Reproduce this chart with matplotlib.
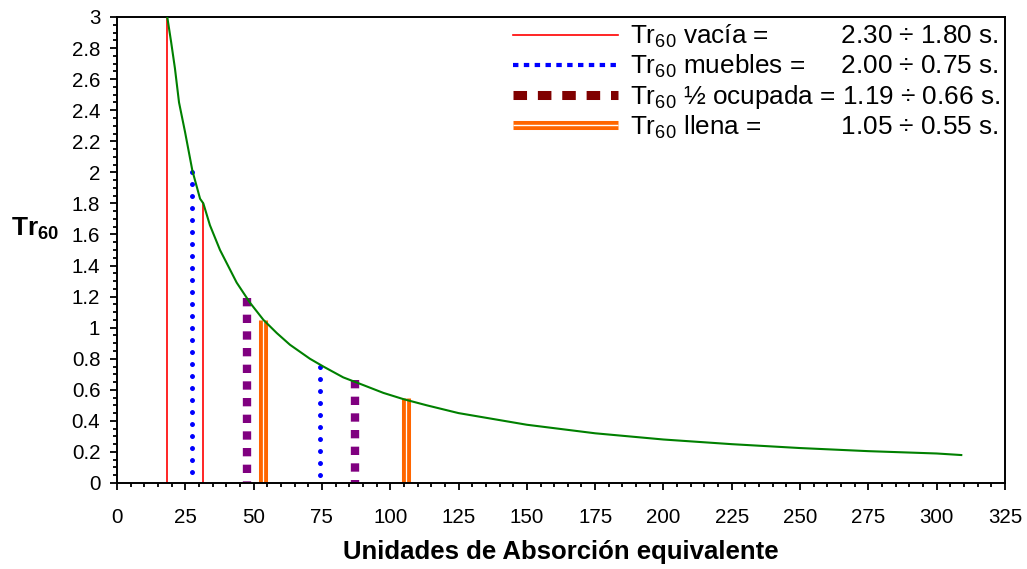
import matplotlib
matplotlib.use("Agg")
import matplotlib.pyplot as plt
from matplotlib.lines import Line2D
from matplotlib.legend_handler import HandlerTuple
from matplotlib.ticker import MultipleLocator, FuncFormatter

plt.rcParams['font.family'] = ['Liberation Sans', 'DejaVu Sans']
plt.rcParams['mathtext.fontset'] = 'custom'
plt.rcParams['mathtext.rm'] = 'Liberation Sans'
plt.rcParams['mathtext.it'] = 'Liberation Sans:italic'
plt.rcParams['mathtext.bf'] = 'Liberation Sans:bold'

# ---- data ----
curve_A = [18.4, 19.8, 21.2, 22.7, 24.9, 27.6, 30.4, 31.6, 34.0, 37.7, 43.8, 48.7,
           53.6, 58.5, 63.3, 70.6, 75.5, 82.8, 90.2, 97.5, 104.8, 113.4, 125,
           150, 175, 200, 225, 250, 275, 300, 309]
curve_T = [3.00, 2.84, 2.67, 2.45, 2.26, 2.01, 1.83, 1.80, 1.66, 1.50, 1.29, 1.16,
           1.05, 0.965, 0.89, 0.80, 0.75, 0.68, 0.63, 0.58, 0.54, 0.50, 0.45,
           0.375, 0.32, 0.28, 0.25, 0.225, 0.205, 0.19, 0.18]

vacia_A = [18.3, 31.5]
vacia_T = [3.00, 1.80]
muebles_A = [27.5, 74.3]
muebles_T = [2.00, 0.75]
ocupada_A = [47.6, 87.1]
ocupada_T = [1.19, 0.66]
llena_A = [53.6, 105.6]
llena_T = [1.05, 0.55]

legend_labels = [
    "Tr$_{60}$ vacía =" + " " * 10 + "2.30 ÷ 1.80 s.",
    "Tr$_{60}$ muebles =" + " " * 5 + "2.00 ÷ 0.75 s.",
    "Tr$_{60}$ ½ ocupada = 1.19 ÷ 0.66 s.",
    "Tr$_{60}$ llena =" + " " * 11 + "1.05 ÷ 0.55 s.",
]
x_label = "Unidades de Absorción equivalente"
y_label = r"$\mathbf{Tr}_{\mathbf{60}}$"

# ---- figure ----
fig = plt.figure(figsize=(10.27, 5.69), dpi=100)
ax = fig.add_axes([117/1027, 1 - 483/569, (1005-117)/1027, (483-17)/569])

ax.plot(curve_A, curve_T, color='#008000', lw=1.5, zorder=3)

for a, t in zip(vacia_A, vacia_T):
    ax.plot([a, a], [0, t], color='#FF0000', lw=1.2, zorder=2)
for a, t in zip(muebles_A, muebles_T):
    ax.plot([a, a], [t, 0], color='#0000FF', lw=3.6, linestyle=(0, (0.01, 2.39)),
            dash_capstyle='round', zorder=2)
for a, t in zip(ocupada_A, ocupada_T):
    ax.plot([a, a], [t, 0], color='#800080', lw=6.0, linestyle=(0, (1, 1)),
            dash_capstyle='butt', zorder=2)
for a, t in zip(llena_A, llena_T):
    ax.plot([a, a], [0, t], color='#FF6600', lw=6.5, solid_capstyle='butt', zorder=2)
    ax.plot([a, a], [0, t], color='white', lw=0.9, solid_capstyle='butt', zorder=2)

ax.set_xlim(0, 325)
ax.set_ylim(0, 3)
ax.xaxis.set_major_locator(MultipleLocator(25))
ax.xaxis.set_minor_locator(MultipleLocator(5))
ax.yaxis.set_major_locator(MultipleLocator(0.2))
ax.yaxis.set_minor_locator(MultipleLocator(0.05))
ax.yaxis.set_major_formatter(FuncFormatter(lambda v, p: f"{round(v, 2):g}"))
ax.tick_params(axis='both', which='major', length=5, width=1.3, labelsize=14.8,
               direction='out', color='black')
ax.tick_params(axis='both', which='minor', length=3, width=1.3, direction='out')
ax.tick_params(axis='x', which='major', pad=13)
ax.tick_params(axis='y', which='major', pad=7)
for s in ax.spines.values():
    s.set_linewidth(1.4)
    s.set_color('black')

ax.set_xlabel(x_label, fontsize=18.5, fontweight='bold', labelpad=9)
ax.set_ylabel(y_label, fontsize=19, rotation=0, va='center', ha='center')
ax.yaxis.set_label_coords(-0.092, 0.545)

h_vacia = Line2D([], [], color='#FF0000', lw=1.2)
h_muebles = Line2D([], [], color='#0000FF', lw=3.0, linestyle=(0, (1.3, 1.3)),
                   dash_capstyle='butt')
h_ocupada = Line2D([], [], color='#800000', lw=6.5, linestyle=(0, (1.5, 1.2)),
                   dash_capstyle='butt')
h_llena = (Line2D([], [], color='#FF6600', lw=6.5, solid_capstyle='butt'),
           Line2D([], [], color='white', lw=1.0, solid_capstyle='butt'))

leg = ax.legend([h_vacia, h_muebles, h_ocupada, h_llena], legend_labels,
                handler_map={tuple: HandlerTuple(ndivide=1)},
                loc='upper right', bbox_to_anchor=(1.0056, 1.009), borderaxespad=0.0,
                fontsize=18.8, frameon=False, handlelength=4.0, handletextpad=0.45,
                labelspacing=0.1)

fig.savefig("out.png", dpi=100)
